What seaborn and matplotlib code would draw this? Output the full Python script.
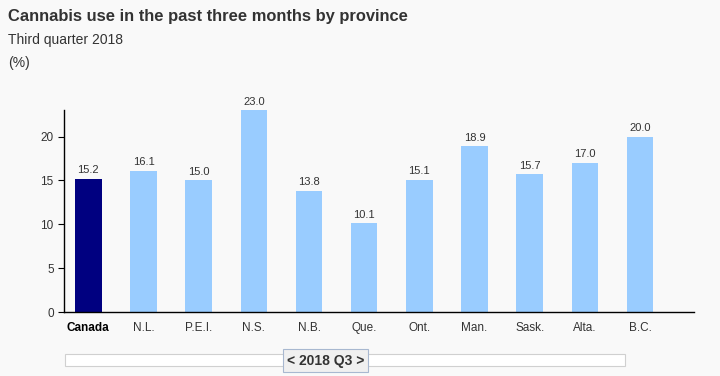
import pandas as pd
import matplotlib.pyplot as plt
import matplotlib.patches as mpatches
import seaborn as sns

# Data
regions = ['Canada', 'N.L.', 'P.E.I.', 'N.S.', 'N.B.', 'Que.', 'Ont.', 'Man.', 'Sask.', 'Alta.', 'B.C.']
values = [15.2, 16.1, 15.0, 23.0, 13.8, 10.1, 15.1, 18.9, 15.7, 17.0, 20.0]
yticks = [0, 5, 10, 15, 20]

df = pd.DataFrame({'Region': regions, 'Value': values})
colors = {r: ('#000080' if r == 'Canada' else '#99ccff') for r in regions}

bg = '#f9f9f9'
txt = '#333333'

sns.set_style('white')
plt.rcParams['font.family'] = ['Liberation Sans', 'DejaVu Sans']

fig = plt.figure(figsize=(7.2, 3.76), dpi=100, facecolor=bg)
ax = fig.add_axes([0.089, 0.170, 0.875, 0.537])
ax.set_facecolor(bg)

sns.barplot(data=df, x='Region', y='Value', hue='Region', palette=colors,
            legend=False, width=0.48, ax=ax, saturation=1, linewidth=0)

for i, v in enumerate(values):
    ax.text(i, v + 0.4, f'{v:.1f}', ha='center', va='bottom', fontsize=8, color=txt)

ax.set_xlim(-0.44, 10.98)
ax.set_ylim(0, 23)
ax.set_yticks(yticks)
ax.set_xlabel('')
ax.set_ylabel('')
ax.tick_params(axis='y', length=4, color='black', labelsize=8.5, labelcolor=txt, left=True)
ax.tick_params(axis='x', length=0, labelsize=8.5, labelcolor=txt, pad=7)
for lbl in ax.get_xticklabels():
    if lbl.get_text() == 'Canada':
        lbl.set_fontweight('bold')
        lbl.set_color('black')
for side in ['top', 'right']:
    ax.spines[side].set_visible(False)
for side in ['left', 'bottom']:
    ax.spines[side].set_color('black')
    ax.spines[side].set_linewidth(1)

# Titles
fig.text(8 / 720, 1 - 16 / 376, 'Cannabis use in the past three months by province',
         fontsize=11.9, fontweight='bold', color=txt, va='center')
fig.text(8 / 720, 1 - 40 / 376, 'Third quarter 2018', fontsize=10, color=txt, va='center')
fig.text(8 / 720, 1 - 63 / 376, '(%)', fontsize=10, color=txt, va='center')

# Slider widget at the bottom
fig.patches.append(mpatches.Rectangle((65 / 720, 1 - 366 / 376), 560 / 720, 12 / 376,
                                      transform=fig.transFigure, facecolor='white',
                                      edgecolor='#d0d0d0', linewidth=0.8))
fig.patches.append(mpatches.Rectangle((283 / 720, 1 - 372 / 376), 85 / 720, 23 / 376,
                                      transform=fig.transFigure, facecolor='#f0f0f0',
                                      edgecolor='#a8b8d0', linewidth=0.8))
fig.text(325.5 / 720, 1 - 360.5 / 376, '< 2018 Q3 >', fontsize=10, fontweight='bold',
         color=txt, ha='center', va='center')

fig.savefig('out.png', dpi=100, facecolor=bg)
